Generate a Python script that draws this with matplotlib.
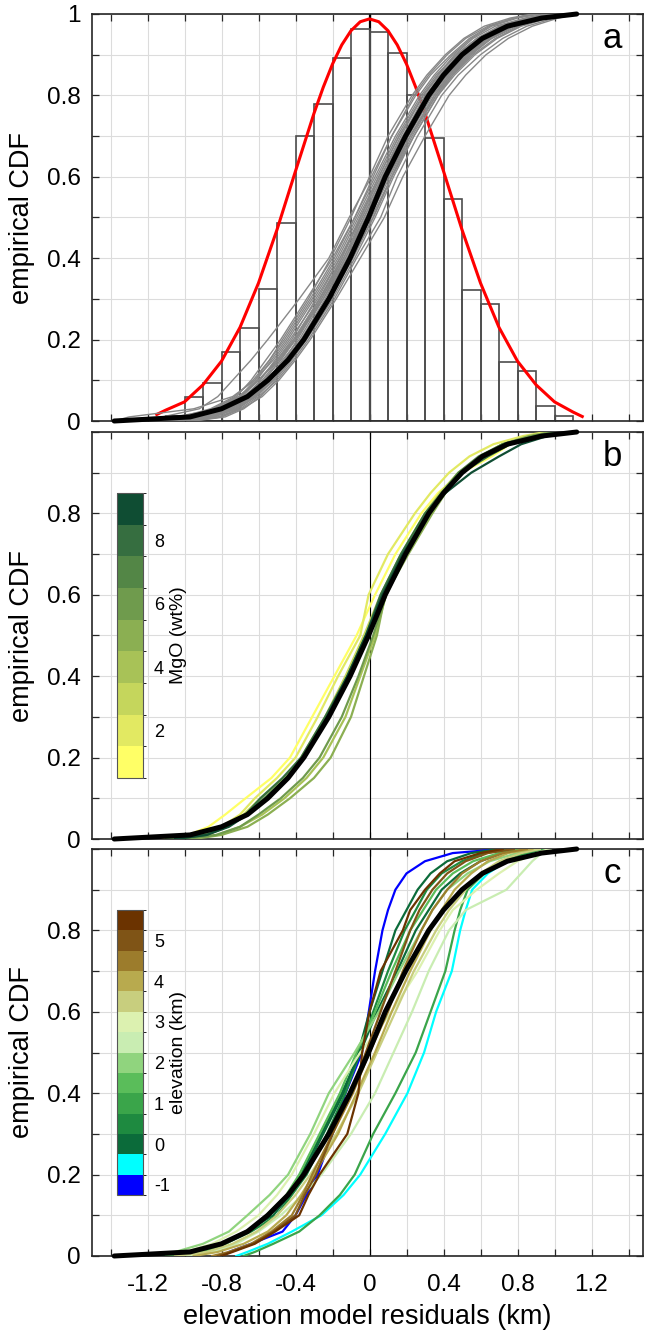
import matplotlib
matplotlib.use("Agg")
import matplotlib.pyplot as plt
from matplotlib.colors import ListedColormap, BoundaryNorm
from matplotlib.cm import ScalarMappable
from matplotlib.ticker import FixedLocator, MultipleLocator, FormatStrFormatter

plt.rcParams.update({
    "font.family": ["Liberation Sans", "DejaVu Sans"],
    "axes.unicode_minus": False,
})

CDF_LEVELS = [0, 0.01, 0.03, 0.06, 0.1, 0.15, 0.2, 0.3, 0.4, 0.5,
              0.6, 0.7, 0.8, 0.85, 0.9, 0.94, 0.97, 0.99, 1.0]

# mean CDF (thick black, same in all panels)
MEAN_CDF_X = [-1.38, -0.97, -0.8, -0.66, -0.55, -0.44, -0.355, -0.22, -0.105, -0.005,
              0.085, 0.195, 0.32, 0.4, 0.5, 0.61, 0.745, 0.93, 1.12]

# panel a: residual histogram (bin left edges, normalised heights)
HIST_LEFT = [-1.1, -1.0, -0.9, -0.8, -0.7, -0.6, -0.5, -0.4, -0.3, -0.2, -0.1,
             0.0, 0.1, 0.2, 0.3, 0.4, 0.5, 0.6, 0.7, 0.8, 0.9, 1.0]
HIST_HEIGHT = [0.012, 0.060, 0.093, 0.170, 0.228, 0.324, 0.487, 0.700, 0.779, 0.892, 0.963,
               0.957, 0.904, 0.800, 0.696, 0.545, 0.321, 0.287, 0.146, 0.123, 0.037, 0.012]
HIST_BIN = 0.1

# panel a: fitted normal curve (red)
FIT_X = [-1.15, -1.1, -1.0, -0.9, -0.8, -0.7, -0.6, -0.5, -0.4, -0.3, -0.25, -0.2, -0.15,
         -0.1, -0.05, 0.0, 0.05, 0.1, 0.15, 0.2, 0.25, 0.3, 0.4, 0.5, 0.6, 0.7, 0.8,
         0.9, 1.0, 1.1, 1.15]
FIT_Y = [0.016, 0.027, 0.047, 0.089, 0.147, 0.230, 0.339, 0.470, 0.614, 0.756, 0.820, 0.877,
         0.924, 0.959, 0.981, 0.988, 0.981, 0.959, 0.924, 0.877, 0.820, 0.756, 0.614, 0.470,
         0.339, 0.230, 0.147, 0.089, 0.047, 0.022, 0.011]

# panel a: individual CDFs (grey)
GREY_CDF_X = [
    [-1.38, -1.30, -0.95, -0.74, -0.62, -0.52, -0.44, -0.30, -0.17, -0.06, 0.05, 0.16, 0.29, 0.37, 0.47, 0.58, 0.70, 0.86, 0.98],
    [-1.20, -0.92, -0.78, -0.66, -0.57, -0.48, -0.40, -0.27, -0.15, -0.05, 0.06, 0.18, 0.31, 0.40, 0.50, 0.60, 0.72, 0.88, 1.00],
    [-1.10, -0.85, -0.72, -0.62, -0.52, -0.43, -0.35, -0.21, -0.09, 0.02, 0.12, 0.23, 0.36, 0.44, 0.55, 0.65, 0.78, 0.95, 1.05],
    [-1.25, -0.98, -0.84, -0.72, -0.64, -0.56, -0.48, -0.34, -0.20, -0.08, 0.03, 0.14, 0.27, 0.35, 0.45, 0.55, 0.66, 0.80, 0.92],
    [-0.98, -0.82, -0.70, -0.60, -0.50, -0.41, -0.33, -0.19, -0.07, 0.06, 0.15, 0.26, 0.39, 0.48, 0.60, 0.72, 0.85, 1.00, 1.10],
    [-1.15, -0.90, -0.76, -0.64, -0.55, -0.46, -0.37, -0.24, -0.12, -0.01, 0.09, 0.20, 0.33, 0.42, 0.52, 0.62, 0.75, 0.90, 1.02],
    [-1.30, -1.05, -0.82, -0.69, -0.60, -0.50, -0.42, -0.29, -0.16, -0.05, 0.06, 0.17, 0.29, 0.37, 0.46, 0.56, 0.68, 0.84, 0.95],
    [-1.05, -0.86, -0.74, -0.63, -0.53, -0.44, -0.36, -0.22, -0.10, 0.00, 0.10, 0.21, 0.34, 0.43, 0.54, 0.66, 0.80, 0.96, 1.08],
    [-1.22, -0.95, -0.80, -0.68, -0.58, -0.49, -0.41, -0.27, -0.14, -0.03, 0.08, 0.19, 0.32, 0.41, 0.51, 0.62, 0.74, 0.90, 1.04],
    [-1.00, -0.80, -0.69, -0.58, -0.49, -0.40, -0.32, -0.18, -0.05, 0.08, 0.18, 0.30, 0.43, 0.52, 0.63, 0.75, 0.88, 1.02, 1.12],
    [-1.35, -1.12, -0.92, -0.82, -0.74, -0.64, -0.55, -0.38, -0.22, -0.11, 0.01, 0.12, 0.25, 0.33, 0.44, 0.54, 0.65, 0.78, 0.90],
    [-1.12, -0.88, -0.75, -0.64, -0.55, -0.47, -0.38, -0.25, -0.12, -0.02, 0.09, 0.20, 0.33, 0.41, 0.51, 0.61, 0.73, 0.88, 1.00],
    [-0.95, -0.78, -0.68, -0.59, -0.51, -0.42, -0.34, -0.20, -0.08, 0.03, 0.13, 0.24, 0.37, 0.45, 0.55, 0.66, 0.78, 0.94, 1.06],
    [-1.28, -1.00, -0.83, -0.70, -0.61, -0.53, -0.45, -0.31, -0.18, -0.07, 0.04, 0.15, 0.28, 0.36, 0.47, 0.58, 0.71, 0.86, 0.98],
    [-1.08, -0.84, -0.72, -0.61, -0.52, -0.43, -0.35, -0.22, -0.11, 0.00, 0.11, 0.22, 0.35, 0.44, 0.54, 0.64, 0.76, 0.92, 1.04],
    [-1.18, -0.93, -0.79, -0.67, -0.59, -0.51, -0.43, -0.28, -0.16, -0.04, 0.07, 0.18, 0.30, 0.39, 0.49, 0.60, 0.73, 0.87, 0.99],
    [-1.32, -1.02, -0.86, -0.73, -0.63, -0.54, -0.46, -0.32, -0.19, -0.08, 0.02, 0.12, 0.24, 0.32, 0.42, 0.52, 0.64, 0.78, 0.90],
    [-1.02, -0.84, -0.73, -0.63, -0.54, -0.46, -0.39, -0.26, -0.14, -0.04, 0.07, 0.19, 0.33, 0.42, 0.53, 0.64, 0.77, 0.93, 1.05],
    [-1.14, -0.90, -0.77, -0.65, -0.56, -0.45, -0.36, -0.23, -0.11, 0.01, 0.12, 0.24, 0.37, 0.46, 0.57, 0.69, 0.82, 0.97, 1.08],
    [-1.26, -0.97, -0.81, -0.70, -0.62, -0.54, -0.47, -0.33, -0.21, -0.10, 0.00, 0.10, 0.23, 0.31, 0.41, 0.51, 0.62, 0.76, 0.88],
    [-0.96, -0.80, -0.71, -0.62, -0.54, -0.45, -0.37, -0.23, -0.10, 0.02, 0.12, 0.22, 0.35, 0.43, 0.53, 0.63, 0.75, 0.90, 1.02],
    [-1.19, -0.94, -0.81, -0.70, -0.60, -0.49, -0.40, -0.26, -0.13, -0.02, 0.10, 0.22, 0.36, 0.45, 0.56, 0.68, 0.81, 0.95, 1.06],
    [-1.06, -0.87, -0.75, -0.65, -0.57, -0.48, -0.40, -0.25, -0.13, -0.03, 0.08, 0.19, 0.32, 0.40, 0.51, 0.63, 0.77, 0.94, 1.04],
    [-1.24, -0.99, -0.85, -0.71, -0.60, -0.50, -0.41, -0.27, -0.15, -0.05, 0.05, 0.16, 0.29, 0.38, 0.48, 0.59, 0.72, 0.85, 0.96],
]

# panel b: CDFs grouped by MgO (wt%)
MGO_VALUES = [1, 2, 3, 4, 5, 6, 7, 8, 9]
MGO_CDF_X = [
    [-1.20, -0.98, -0.87, -0.78, -0.67, -0.53, -0.43, -0.31, -0.19, -0.07, 0.03, 0.14, 0.28, 0.37, 0.50, 0.66, 0.76, 0.88, 1.00],
    [-1.10, -0.92, -0.80, -0.70, -0.62, -0.50, -0.40, -0.28, -0.17, -0.05, -0.005, 0.10, 0.245, 0.33, 0.43, 0.54, 0.67, 0.83, 0.95],
    [-1.10, -0.90, -0.78, -0.68, -0.59, -0.46, -0.37, -0.24, -0.13, -0.03, 0.06, 0.17, 0.30, 0.38, 0.48, 0.60, 0.72, 0.88, 1.00],
    [-1.00, -0.82, -0.70, -0.58, -0.46, -0.34, -0.25, -0.13, -0.05, 0.03, 0.09, 0.20, 0.33, 0.41, 0.50, 0.62, 0.76, 0.92, 1.05],
    [-0.95, -0.80, -0.66, -0.55, -0.43, -0.30, -0.21, -0.10, -0.03, 0.04, 0.085, 0.21, 0.34, 0.41, 0.50, 0.60, 0.72, 0.86, 0.98],
    [-1.00, -0.83, -0.70, -0.60, -0.48, -0.36, -0.27, -0.15, -0.06, 0.02, 0.09, 0.20, 0.33, 0.40, 0.49, 0.60, 0.72, 0.88, 1.00],
    [-1.10, -0.90, -0.78, -0.67, -0.57, -0.45, -0.35, -0.22, -0.11, -0.01, 0.07, 0.18, 0.31, 0.39, 0.48, 0.59, 0.72, 0.90, 1.02],
    [-1.05, -0.88, -0.77, -0.67, -0.59, -0.47, -0.37, -0.24, -0.12, -0.02, 0.06, 0.17, 0.30, 0.39, 0.50, 0.64, 0.76, 0.92, 1.03],
    [-1.05, -0.88, -0.76, -0.66, -0.56, -0.45, -0.35, -0.23, -0.12, -0.02, 0.07, 0.18, 0.32, 0.41, 0.55, 0.70, 0.82, 0.96, 1.05],
]
MGO_COLORS = ["#FFFF66", "#E2E962", "#C5D65C", "#A8C257", "#8BAF52",
              "#6F9B4D", "#538646", "#366E40", "#0F4D33"]
MGO_BOUNDS = [0.5, 1.5, 2.5, 3.5, 4.5, 5.5, 6.5, 7.5, 8.5, 9.5]
MGO_TICKS = [2, 4, 6, 8]

# panel c: CDFs grouped by elevation (km)
ELEV_VALUES = [-1.0, -0.5, 0.0, 0.5, 0.0, 1.0, 1.5, 2.0, 2.5, 3.0, 3.5, 4.0, 4.5, 5.0, 5.5]
ELEV_CDF_X = [
    [-0.80, -0.76, -0.64, -0.47, -0.40, -0.34, -0.28, -0.20, -0.13, -0.04, -0.004, 0.03, 0.07, 0.10, 0.14, 0.20, 0.30, 0.45, 0.72],
    [-0.72, -0.66, -0.55, -0.42, -0.26, -0.14, -0.05, 0.085, 0.205, 0.295, 0.36, 0.445, 0.49, 0.52, 0.555, 0.64, 0.74, 0.86, 0.95],
    [-1.20, -0.95, -0.80, -0.66, -0.54, -0.44, -0.36, -0.25, -0.14, -0.06, 0.00, 0.07, 0.14, 0.20, 0.26, 0.33, 0.42, 0.55, 0.70],
    [-1.10, -0.92, -0.78, -0.64, -0.50, -0.42, -0.34, -0.23, -0.13, -0.05, 0.02, 0.10, 0.19, 0.25, 0.31, 0.39, 0.50, 0.62, 0.78],
    [-1.15, -0.94, -0.80, -0.67, -0.52, -0.43, -0.37, -0.26, -0.15, -0.05, 0.04, 0.15, 0.25, 0.32, 0.39, 0.49, 0.60, 0.72, 0.85],
    [-0.68, -0.62, -0.52, -0.38, -0.27, -0.16, -0.08, 0.02, 0.14, 0.25, 0.33, 0.41, 0.46, 0.49, 0.53, 0.62, 0.72, 0.85, 0.95],
    [-1.10, -0.90, -0.78, -0.66, -0.56, -0.45, -0.38, -0.27, -0.16, -0.07, 0.03, 0.12, 0.22, 0.29, 0.36, 0.45, 0.56, 0.70, 0.82],
    [-1.30, -1.05, -0.90, -0.76, -0.66, -0.54, -0.44, -0.32, -0.22, -0.08, 0.05, 0.16, 0.28, 0.34, 0.42, 0.53, 0.65, 0.80, 0.92],
    [-1.00, -0.85, -0.72, -0.60, -0.48, -0.36, -0.26, -0.10, 0.03, 0.13, 0.23, 0.32, 0.43, 0.52, 0.74, 0.82, 0.88, 0.93, 0.98],
    [-1.25, -1.00, -0.85, -0.72, -0.60, -0.50, -0.42, -0.30, -0.19, -0.05, 0.12, 0.26, 0.38, 0.45, 0.58, 0.70, 0.80, 0.90, 0.97],
    [-1.05, -0.88, -0.74, -0.61, -0.50, -0.40, -0.32, -0.18, -0.06, 0.04, 0.14, 0.24, 0.36, 0.43, 0.52, 0.60, 0.70, 0.82, 0.92],
    [-0.95, -0.82, -0.68, -0.55, -0.45, -0.37, -0.30, -0.17, -0.07, 0.03, 0.12, 0.22, 0.33, 0.39, 0.46, 0.55, 0.64, 0.75, 0.88],
    [-0.85, -0.76, -0.64, -0.53, -0.42, -0.36, -0.31, -0.20, -0.09, 0.00, 0.10, 0.18, 0.28, 0.34, 0.42, 0.50, 0.60, 0.72, 0.85],
    [-0.82, -0.75, -0.63, -0.52, -0.40, -0.35, -0.29, -0.20, -0.10, -0.02, 0.06, 0.14, 0.22, 0.27, 0.34, 0.42, 0.52, 0.64, 0.78],
    [-0.80, -0.74, -0.62, -0.51, -0.38, -0.33, -0.27, -0.12, -0.06, -0.04, 0.00, 0.06, 0.18, 0.22, 0.30, 0.38, 0.46, 0.60, 0.72],
]
ELEV_COLORS = ["#0000FF", "#00FFFF", "#0B6B3A", "#1E8A40", "#3AA54A", "#5ABD5A", "#90D47E",
               "#C9EDB2", "#DCF1B0", "#C8CE7E", "#B8AA4E", "#9C7C2C", "#7F5416", "#6B3300"]
ELEV_BOUNDS = [-1.25, -0.75, -0.25, 0.25, 0.75, 1.25, 1.75, 2.25, 2.75, 3.25,
               3.75, 4.25, 4.75, 5.25, 5.75]
ELEV_TICKS = [-1, 0, 1, 2, 3, 4, 5]

X_TICKS = [-1.2, -0.8, -0.4, 0, 0.4, 0.8, 1.2]

W, H = 646, 1334
fig = plt.figure(figsize=(W / 100, H / 100), dpi=100)


def px_axes(x0, y0, x1, y1):
    return fig.add_axes([x0 / W, 1 - y1 / H, (x1 - x0) / W, (y1 - y0) / H])


def style(ax, letter, top_label, bottom):
    ax.set_xlim(-1.5, 1.48)
    ax.set_ylim(0, 1)
    ax.xaxis.set_major_locator(FixedLocator(X_TICKS))
    ax.xaxis.set_minor_locator(MultipleLocator(0.2))
    yt = [0, 0.2, 0.4, 0.6, 0.8, 1.0] if top_label else [0, 0.2, 0.4, 0.6, 0.8]
    ax.yaxis.set_major_locator(FixedLocator(yt))
    ax.yaxis.set_minor_locator(MultipleLocator(0.1))
    ax.xaxis.set_major_formatter(FormatStrFormatter("%g"))
    ax.yaxis.set_major_formatter(FormatStrFormatter("%g"))
    ax.grid(True, which="both", color="#dcdcdc", lw=0.8)
    ax.set_axisbelow(True)
    ax.tick_params(which="both", direction="in", top=True, right=True,
                   length=5, width=0.9, color="#262626", labelsize=17.5)
    ax.tick_params(axis="y", pad=8)
    ax.tick_params(axis="x", pad=13, labelbottom=bottom)
    for s in ax.spines.values():
        s.set_color("#262626")
        s.set_linewidth(1.2)
    ax.set_ylabel("empirical CDF", fontsize=19.5)
    ax.yaxis.set_label_coords(-0.104, 0.5)
    ax.text(0.944, 0.941, letter, transform=ax.transAxes, fontsize=25,
            ha="center", va="center")


ax_a = px_axes(92, 14, 643.3, 421)
ax_b = px_axes(92, 432, 643.3, 839)
ax_c = px_axes(92, 849, 643.3, 1256)

# ---- panel a
ax_a.axvline(0, color="black", lw=1.6, zorder=2)
ax_a.bar(HIST_LEFT, HIST_HEIGHT, width=HIST_BIN, align="edge", fill=False,
         edgecolor="#4d4d4d", lw=1.2, zorder=2)
ax_a.plot(FIT_X, FIT_Y, color="#FF0000", lw=2.2, zorder=3)
for xs in GREY_CDF_X:
    ax_a.plot(xs, CDF_LEVELS, color="#888888", lw=1.0, zorder=4)
ax_a.plot(MEAN_CDF_X, CDF_LEVELS, color="black", lw=3.6, zorder=5,
          solid_capstyle="round", clip_on=False)
style(ax_a, "a", True, False)

# ---- panel b
mgo_cmap = ListedColormap(MGO_COLORS)
mgo_norm = BoundaryNorm(MGO_BOUNDS, mgo_cmap.N)
ax_b.axvline(0, color="black", lw=0.8, zorder=2)
for v, xs in zip(MGO_VALUES, MGO_CDF_X):
    ax_b.plot(xs, CDF_LEVELS, color=mgo_cmap(mgo_norm(v)), lw=1.6, zorder=3)
ax_b.plot(MEAN_CDF_X, CDF_LEVELS, color="black", lw=3.6, zorder=5,
          solid_capstyle="round", clip_on=False)
style(ax_b, "b", False, False)

# ---- panel c
elev_cmap = ListedColormap(ELEV_COLORS)
elev_norm = BoundaryNorm(ELEV_BOUNDS, elev_cmap.N)
ax_c.axvline(0, color="black", lw=0.8, zorder=2)
for v, xs in zip(ELEV_VALUES, ELEV_CDF_X):
    ax_c.plot(xs, CDF_LEVELS, color=elev_cmap(elev_norm(v)), lw=1.6, zorder=3)
ax_c.plot(MEAN_CDF_X, CDF_LEVELS, color="black", lw=3.6, zorder=5,
          solid_capstyle="round", clip_on=False)
style(ax_c, "c", False, True)
ax_c.set_xlabel("elevation model residuals (km)", fontsize=19.5, labelpad=6)


def colorbar(cmap, norm, ticks, label, box):
    cax = px_axes(*box)
    cb = fig.colorbar(ScalarMappable(norm=norm, cmap=cmap), cax=cax, ticks=ticks)
    cb.outline.set_edgecolor("#555555")
    cb.outline.set_linewidth(0.8)
    cax.tick_params(length=0, labelsize=13, pad=8)
    cax.yaxis.set_major_formatter(FormatStrFormatter("%g"))
    cb.set_label(label, fontsize=14)
    cax.yaxis.set_label_coords(2.05, 0.5)


colorbar(mgo_cmap, mgo_norm, MGO_TICKS, "MgO (wt%)", (117, 493, 143, 778))
colorbar(elev_cmap, elev_norm, ELEV_TICKS, "elevation (km)", (117, 910, 143, 1195))

fig.savefig("out.png", dpi=100)
